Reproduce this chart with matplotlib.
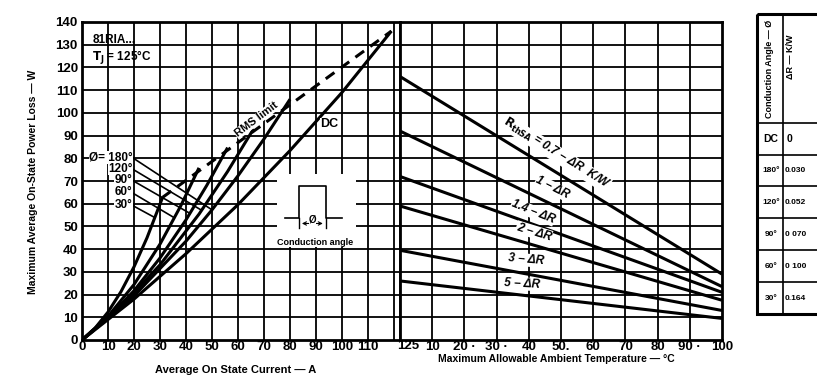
import numpy as np
import matplotlib
matplotlib.use("Agg")
import matplotlib.pyplot as plt
from matplotlib.patches import Rectangle

plt.rcParams['font.family'] = ['Liberation Sans', 'DejaVu Sans']
plt.rcParams['font.weight'] = 'bold'

# ---------------- data ----------------
# Left panel: power loss (W) vs average on-state current (A), per conduction angle
dc_i = [0, 20, 40, 60, 80, 100, 119]
dc_p = [0, 18, 38, 59.6, 83.4, 109, 136]
a180_i = [0, 20, 40, 50, 60, 70, 80]
a180_p = [0, 19.4, 43.5, 57.3, 72.3, 88.5, 106]
a120_i = [0, 15, 30, 45, 56, 66]
a120_p = [0, 14.7, 33.1, 55.4, 74.2, 93]
a90_i = [0, 10, 20, 30, 40, 48, 56]
a90_p = [0, 9.7, 21.7, 36.1, 52.9, 68.1, 84.7]
a60_i = [0, 10, 20, 30, 38, 45]
a60_p = [0, 10.4, 24.4, 42.2, 59.1, 75.8]
a30_i = [0, 5, 10, 15, 20, 25, 31]
a30_p = [0, 5.2, 12.3, 21.3, 32.2, 45, 62.8]
rms_i = [31, 119]
rms_p = [62.8, 136]
angle_labels = ["Ø= 180°", "120°", "90°", "60°", "30°"]

# Right panel: straight lines vs ambient temperature
temp_pos = [0, 100]
rth_labels = ["0.7", "1", "1.4", "2", "3", "5"]
rth_start = [116, 92, 72, 59, 39.5, 26]
rth_end = [29, 23.5, 21, 17.5, 13, 9.5]
temp_ticks = [0, 10, 20, 30, 40, 50, 60, 70, 80, 90, 100]
temp_ticklabels = ["125", "10", "20 ·", "30 ·", "40", "50.", "60", "70", "80", "90 ·", "100"]

current_ticks = [0, 10, 20, 30, 40, 50, 60, 70, 80, 90, 100, 110]
power_ticks = list(range(0, 141, 10))

table_angles = ["DC", "180°", "120°", "90°", "60°", "30°"]
table_dr = ["0", "0.030", "0.052", "0 070", "0 100", "0.164"]

# ---------------- figure ----------------
W, H = 817, 379
fig = plt.figure(figsize=(W / 100, H / 100), dpi=100)


def fx(px):
    return px / W


def fy(py):
    return 1 - py / H


L0, L1, R1, T0, B0 = 82, 400, 722, 22, 340
axL = fig.add_axes([fx(L0), fy(B0), fx(L1 - L0), fy(T0) - fy(B0)])
axR = fig.add_axes([fx(L1), fy(B0), fx(R1 - L1), fy(T0) - fy(B0)])

grid_kw = dict(color='black', lw=1.3)
curve_kw = dict(color='black', lw=2.2, solid_capstyle='butt')

# ---- left panel ----
axL.set_xlim(0, 122.3)
axL.set_ylim(0, 140)
for x in range(10, 121, 10):
    axL.axvline(x, **grid_kw, zorder=1)
for y in power_ticks[1:-1]:
    axL.axhline(y, **grid_kw, zorder=1)

curves = [(a180_i, a180_p), (a120_i, a120_p), (a90_i, a90_p), (a60_i, a60_p), (a30_i, a30_p)]
for ci, cp in curves + [(dc_i, dc_p)]:
    axL.plot(ci, cp, **curve_kw, zorder=3)
axL.plot(rms_i, rms_p, color='black', lw=2.2, ls=(0, (3.5, 2.5)), zorder=3)

axL.set_xticks(current_ticks)
axL.set_xticklabels([str(t) for t in current_ticks])
axL.set_yticks(power_ticks)
axL.set_yticklabels([str(t) for t in power_ticks])
axL.tick_params(axis='both', length=0, labelsize=9.5)
axL.tick_params(axis='x', pad=0.5)
axL.tick_params(axis='y', pad=3)
for s in axL.spines.values():
    s.set_linewidth(2)

axL.text(4, 132, "81RIA...", fontsize=8.5, va='center', ha='left')
axL.text(4, 124, "$\\mathbf{T_J}$ = 125°C", fontsize=8.5, va='center', ha='left')

# conduction-angle labels with pointer lines
label_y = [80.5, 75.5, 70.5, 65, 59.5]
label_x = 19.5
target_x = [50, 46, 41.5, 35.5, 28]
for (ci, cp), lab, ly, tx in zip(curves, angle_labels, label_y, target_x):
    axL.text(label_x, ly, lab, fontsize=8.5, ha='right', va='center', zorder=5,
             bbox=dict(facecolor='white', edgecolor='none', pad=0.3))
    ty = np.interp(tx, ci, cp)
    axL.plot([label_x + 0.3, tx], [ly - 0.5, ty], color='black', lw=1.2, zorder=4)

axL.text(67, 97, "RMS limit", fontsize=8, rotation=37, ha='center', va='center', zorder=5,
         bbox=dict(facecolor='white', edgecolor='none', pad=0.2))
axL.text(95, 95, "DC", fontsize=9, ha='center', va='center', zorder=5,
         bbox=dict(facecolor='white', edgecolor='none', pad=0.3))

# conduction angle inset
axL.add_patch(Rectangle((75, 44), 30.5, 29, facecolor='white', edgecolor='none', zorder=4))
axL.plot([78, 83.5, 83.5, 93.7, 93.7, 100], [53.7, 53.7, 67.8, 67.8, 53.7, 53.7],
         color='black', lw=1.2, zorder=5)
axL.plot([83.5, 83.5], [49.5, 53.7], color='black', lw=1, zorder=5)
axL.plot([93.7, 93.7], [49.5, 53.7], color='black', lw=1, zorder=5)
axL.annotate("", xy=(83.5, 51.3), xytext=(88.6, 51.3),
             arrowprops=dict(arrowstyle='->', lw=0.8, mutation_scale=6), zorder=5)
axL.annotate("", xy=(93.7, 51.3), xytext=(88.6, 51.3),
             arrowprops=dict(arrowstyle='->', lw=0.8, mutation_scale=6), zorder=5)
axL.text(88.6, 53.2, "Ø", fontsize=7, ha='center', va='center', zorder=6,
         bbox=dict(facecolor='white', edgecolor='none', pad=0.1))
axL.text(89.5, 43, "Conduction angle", fontsize=6.5, ha='center', va='center', zorder=6,
         bbox=dict(facecolor='white', edgecolor='none', pad=0.3))

# ---- right panel ----
axR.set_xlim(0, 100)
axR.set_ylim(0, 140)
for x in temp_ticks[1:-1]:
    axR.axvline(x, **grid_kw, zorder=1)
for y in power_ticks[1:-1]:
    axR.axhline(y, **grid_kw, zorder=1)
for s, e in zip(rth_start, rth_end):
    axR.plot(temp_pos, [s, e], **curve_kw, zorder=3)
axR.set_xticks(temp_ticks)
axR.set_xticklabels([""] + temp_ticklabels[1:])
axR.set_yticks([])
axR.tick_params(axis='x', length=0, labelsize=9.5, pad=0.5)
for s in axR.spines.values():
    s.set_linewidth(2)
fig.text(fx(408), fy(346), temp_ticklabels[0], fontsize=9.5, ha='center', va='center')

rth_text = ["$\\mathbf{R_{thSA}}$ = " + rth_labels[0] + " − ΔR  K/W"] + \
           [v + " − ΔR" for v in rth_labels[1:]]
rth_pos = [(48.5, 82), (47.3, 67), (41.3, 56.4), (41.6, 47.6), (39.1, 35.2), (37.9, 24.7)]
rth_rot = [-32, -27, -22, -17, -5, -3]
for t, (x, y), r in zip(rth_text, rth_pos, rth_rot):
    axR.text(x, y, t, fontsize=8.5, rotation=r, ha='center', va='center', zorder=5,
             style='italic', bbox=dict(facecolor='white', edgecolor='none', pad=0.3))

# ---- axis titles ----
fig.text(fx(33), fy(182), "Maximum Average On-State Power Loss — W", rotation=90,
         fontsize=7.5, ha='center', va='center')
fig.text(fx(236), fy(370), "Average On State Current — A", fontsize=8, ha='center', va='center')
fig.text(fx(556), fy(359), "Maximum Allowable Ambient Temperature — °C", fontsize=7.5,
         ha='center', va='center')

# ---- table on right (partially cut off) ----
tx0, tx1, tx2 = 757, 783, 830
ty = [14, 123, 155, 186, 218, 250, 282, 314]
axT = fig.add_axes([0, 0, 1, 1], facecolor='none')
axT.set_xlim(0, W)
axT.set_ylim(H, 0)
axT.axis('off')
axT.add_patch(Rectangle((tx0, ty[0]), tx2 - tx0, ty[-1] - ty[0], fill=False, lw=2.2,
                        edgecolor='black'))
axT.plot([tx1, tx1], [ty[0], ty[-1]], color='black', lw=1.2)
for yy in ty[1:-1]:
    axT.plot([tx0, tx2], [yy, yy], color='black', lw=1.2)
axT.text((tx0 + tx1) / 2, (ty[0] + ty[1]) / 2, "Conduction Angle — Ø", rotation=90,
         fontsize=6.5, ha='center', va='center')
axT.text(791, 57, "ΔR — K/W", rotation=90, fontsize=6.5, ha='center', va='center')
for i in range(6):
    yc = (ty[i + 1] + ty[i + 2]) / 2
    axT.text((tx0 + tx1) / 2 + 1, yc, table_angles[i], fontsize=6 if i else 7.5,
             ha='center', va='center')
    axT.text(785 if i else 790, yc, table_dr[i], fontsize=6 if i else 7.5,
             ha='left' if i else 'center', va='center')

fig.savefig("out.png", dpi=100)
